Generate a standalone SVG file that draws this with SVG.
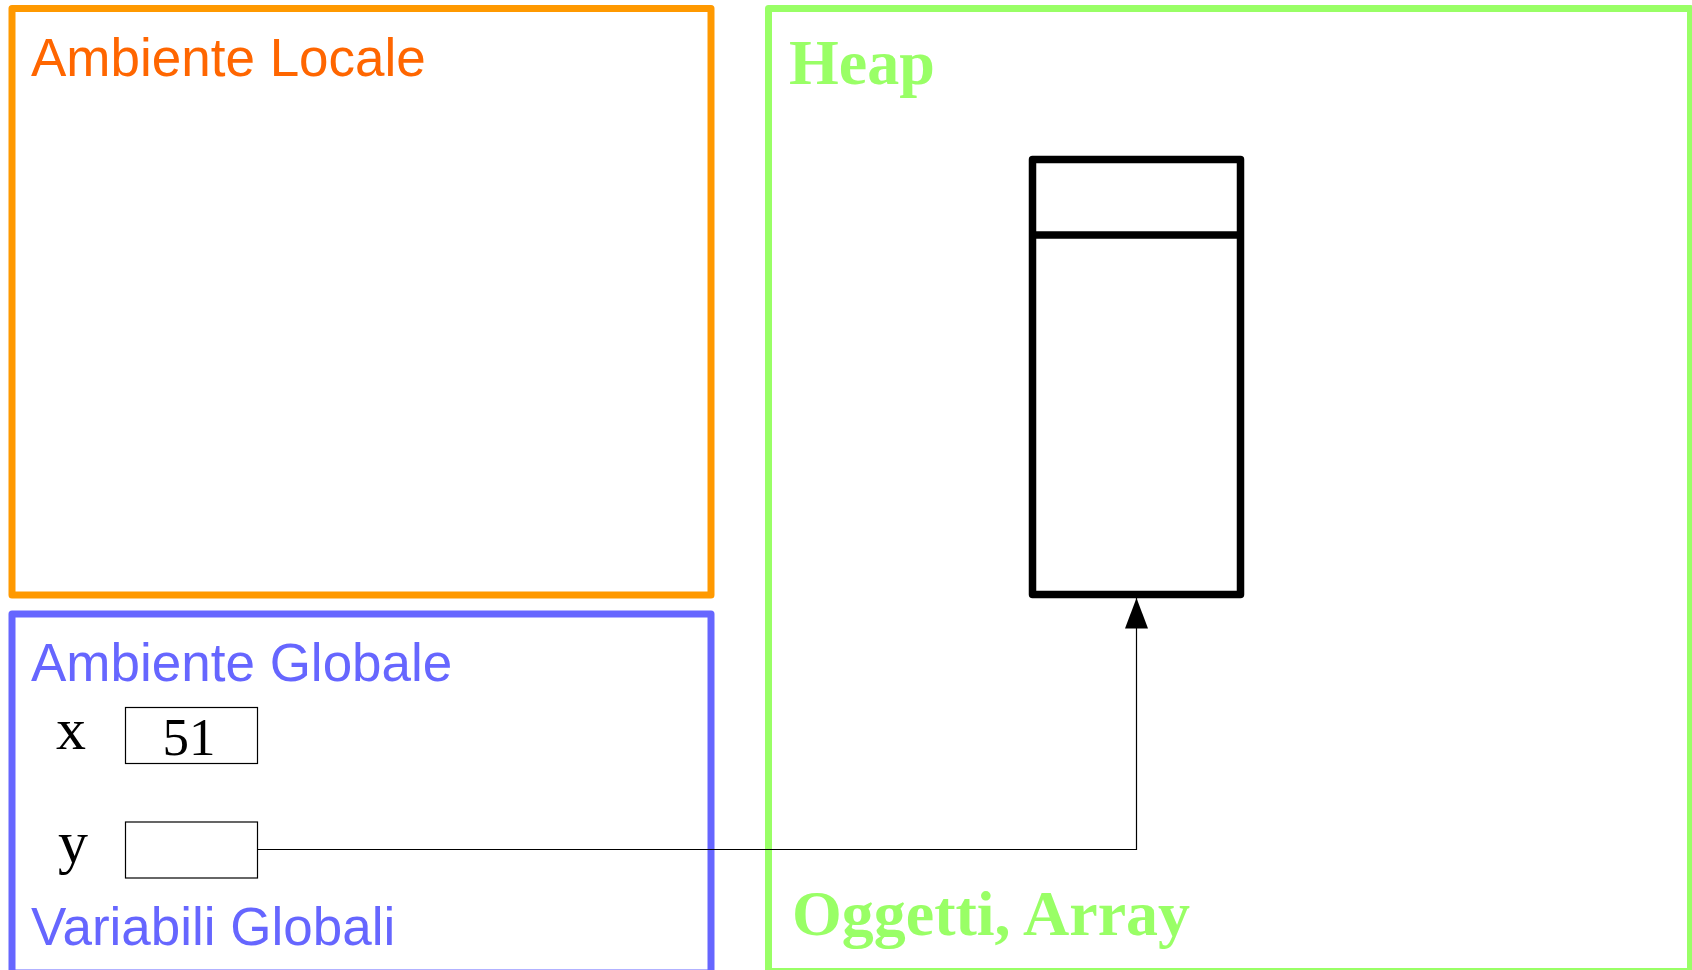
<svg xmlns="http://www.w3.org/2000/svg" width="1692" height="970" viewBox="0 0 1692 970">
<style>
.frame{fill:none;stroke-width:7;stroke-linejoin:round}
.sans{font-family:"Liberation Sans",Arial,sans-serif;font-size:53px}
.serif{font-family:"Liberation Serif","Times New Roman",serif}
.bold{font-weight:bold;fill:#99ff66;font-size:64px}
.cell{fill:#fff;stroke:#000;stroke-width:1.2}
.obj{fill:none;stroke:#000;stroke-width:7.5;stroke-linejoin:round}
</style>
<defs>
<marker id="arr" markerUnits="userSpaceOnUse" markerWidth="31" markerHeight="24" refX="30.5" refY="12" orient="auto" viewBox="0 0 31 24" overflow="visible">
<path d="M30.5 12 L0 0.5 L0 23.5 Z" fill="#000"/>
</marker>
</defs>
<rect width="1692" height="970" fill="#fff"/>
<g id="locale">
<rect class="frame" x="12" y="8.5" width="699" height="586.5" stroke="#ff9900"/>
<text class="sans" x="31" y="76" fill="#ff6600">Ambiente Locale</text>
</g>
<g id="globale">
<rect class="frame" x="12" y="614" width="699" height="359" stroke="#6666ff"/>
<text class="sans" x="31" y="681" fill="#6666ff">Ambiente Globale</text>
<text class="sans" x="31" y="945" fill="#6666ff">Variabili Globali</text>
</g>
<g id="heap">
<rect class="frame" x="768.5" y="8.5" width="922" height="963" stroke="#99ff66"/>
<text class="serif bold" x="789" y="84" font-size="63">Heap</text>
<text class="serif bold" x="792" y="935">Oggetti, Array</text>
</g>
<g id="var-x">
<text class="serif" x="56" y="749" font-size="60">x</text>
<rect class="cell" x="125.5" y="707.5" width="132" height="56"/>
<text class="serif" x="189" y="755" font-size="53" text-anchor="middle">51</text>
</g>
<g id="var-y">
<text class="serif" x="58" y="862" font-size="60">y</text>
<rect class="cell" x="125.5" y="822" width="132" height="56"/>
</g>
<g id="object">
<rect class="obj" x="1032.5" y="159.5" width="208" height="435"/>
<line class="obj" x1="1032.5" y1="235" x2="1240.5" y2="235"/>
</g>
<g id="connectors">
<path d="M257.5 849.5 H1136.5 V598" fill="none" stroke="#000" stroke-width="1.2" marker-end="url(#arr)"/>
</g>
</svg>
